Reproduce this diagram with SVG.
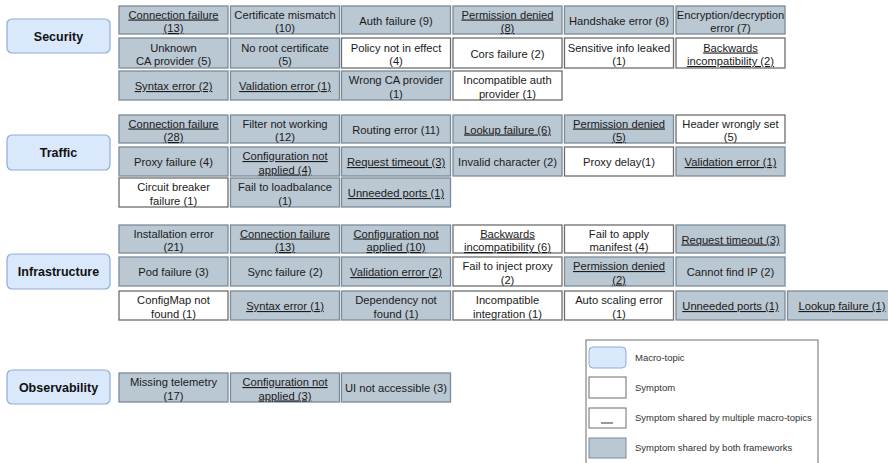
<svg xmlns="http://www.w3.org/2000/svg" width="888" height="463" viewBox="0 0 888 463">
  <style>
    .topic rect { fill: #dae8fc; stroke: #8fabd6; stroke-width: 1.2; }
    .topic text { font-family: "Liberation Sans", Arial, sans-serif; font-size: 12.5px; font-weight: bold; fill: #111; text-anchor: middle; }
    .g rect { fill: #bac8d3; stroke: #7b8a97; stroke-width: 1.3; }
    .w rect { fill: #ffffff; stroke: #6d6d6d; stroke-width: 1.3; }
    .g text, .w text { font-family: "Liberation Sans", Arial, sans-serif; font-size: 11.2px; fill: #1a1a1a; text-anchor: middle; }
    .u text { text-decoration: underline; }
    .legend text { font-family: "Liberation Sans", Arial, sans-serif; font-size: 9.5px; fill: #333; }
  </style>
  <rect width="888" height="463" fill="#ffffff"/>

  <!-- macro-topics -->
  <g id="topic-security" class="topic"><rect x="7" y="19" width="103" height="34" rx="5"/><text x="58.5" y="40.5">Security</text></g>
  <g id="topic-traffic" class="topic"><rect x="7" y="135" width="103" height="35" rx="5"/><text x="58.5" y="157">Traffic</text></g>
  <g id="topic-infrastructure" class="topic"><rect x="7" y="254" width="103" height="35" rx="5"/><text x="58.5" y="276">Infrastructure</text></g>
  <g id="topic-observability" class="topic"><rect x="7" y="370" width="103" height="34" rx="5"/><text x="58.5" y="391.5">Observability</text></g>

  <!-- Security symptoms -->
  <g id="sec-connection-failure" class="g u"><rect x="119" y="6" width="109" height="28"/><text x="173.5" y="18.5">Connection failure</text><text x="173.5" y="32">(13)</text></g>
  <g id="sec-certificate-mismatch" class="g"><rect x="230.5" y="6" width="109" height="28"/><text x="285" y="18.5">Certificate mismatch</text><text x="285" y="32">(10)</text></g>
  <g id="sec-auth-failure" class="g"><rect x="341.5" y="6" width="109" height="28"/><text x="396" y="24.5">Auth failure (9)</text></g>
  <g id="sec-permission-denied" class="g u"><rect x="453" y="6" width="109" height="28"/><text x="507.5" y="18.5">Permission denied</text><text x="507.5" y="32">(8)</text></g>
  <g id="sec-handshake-error" class="g"><rect x="564.5" y="6" width="109" height="28"/><text x="619" y="24.5">Handshake error (8)</text></g>
  <g id="sec-encryption-error" class="g"><rect x="676" y="6" width="109" height="28"/><text x="730.5" y="18.5">Encryption/decryption</text><text x="730.5" y="32">error (7)</text></g>

  <g id="sec-unknown-ca" class="g"><rect x="119" y="38" width="109" height="30"/><text x="173.5" y="51.5">Unknown</text><text x="173.5" y="65">CA provider (5)</text></g>
  <g id="sec-no-root-cert" class="g"><rect x="230.5" y="38" width="109" height="30"/><text x="285" y="51.5">No root certificate</text><text x="285" y="65">(5)</text></g>
  <g id="sec-policy-not-in-effect" class="w"><rect x="341.5" y="38" width="109" height="30"/><text x="396" y="51.5">Policy not in effect</text><text x="396" y="65">(4)</text></g>
  <g id="sec-cors-failure" class="w"><rect x="453" y="38" width="109" height="30"/><text x="507.5" y="57.5">Cors failure (2)</text></g>
  <g id="sec-sensitive-info" class="w"><rect x="564.5" y="38" width="109" height="30"/><text x="619" y="51.5">Sensitive info leaked</text><text x="619" y="65">(1)</text></g>
  <g id="sec-backwards-incompat" class="w u"><rect x="676" y="38" width="109" height="30"/><text x="730.5" y="51.5">Backwards</text><text x="730.5" y="65">incompatibility (2)</text></g>

  <g id="sec-syntax-error" class="g u"><rect x="119" y="71" width="109" height="29"/><text x="173.5" y="90">Syntax error (2)</text></g>
  <g id="sec-validation-error" class="g u"><rect x="230.5" y="71" width="109" height="29"/><text x="285" y="90">Validation error (1)</text></g>
  <g id="sec-wrong-ca" class="g"><rect x="341.5" y="71" width="109" height="29"/><text x="396" y="84">Wrong CA provider</text><text x="396" y="97.5">(1)</text></g>
  <g id="sec-incompat-auth" class="w"><rect x="453" y="71" width="109" height="29"/><text x="507.5" y="84">Incompatible auth</text><text x="507.5" y="97.5">provider (1)</text></g>

  <!-- Traffic symptoms -->
  <g id="tr-connection-failure" class="g u"><rect x="119" y="115" width="109" height="28"/><text x="173.5" y="127.5">Connection failure</text><text x="173.5" y="141">(28)</text></g>
  <g id="tr-filter-not-working" class="g"><rect x="230.5" y="115" width="109" height="28"/><text x="285" y="127.5">Filter not working</text><text x="285" y="141">(12)</text></g>
  <g id="tr-routing-error" class="g"><rect x="341.5" y="115" width="109" height="28"/><text x="396" y="133.5">Routing error (11)</text></g>
  <g id="tr-lookup-failure" class="g u"><rect x="453" y="115" width="109" height="28"/><text x="507.5" y="133.5">Lookup failure (6)</text></g>
  <g id="tr-permission-denied" class="g u"><rect x="564.5" y="115" width="109" height="28"/><text x="619" y="127.5">Permission denied</text><text x="619" y="141">(5)</text></g>
  <g id="tr-header-wrong" class="w"><rect x="676" y="115" width="109" height="28"/><text x="730.5" y="127.5">Header wrongly set</text><text x="730.5" y="141">(5)</text></g>

  <g id="tr-proxy-failure" class="g"><rect x="119" y="147" width="109" height="29"/><text x="173.5" y="166">Proxy failure (4)</text></g>
  <g id="tr-config-not-applied" class="g u"><rect x="230.5" y="147" width="109" height="29"/><text x="285" y="160">Configuration not</text><text x="285" y="173.5">applied (4)</text></g>
  <g id="tr-request-timeout" class="g u"><rect x="341.5" y="147" width="109" height="29"/><text x="396" y="166">Request timeout (3)</text></g>
  <g id="tr-invalid-char" class="g"><rect x="453" y="147" width="109" height="29"/><text x="507.5" y="166">Invalid character (2)</text></g>
  <g id="tr-proxy-delay" class="w"><rect x="564.5" y="147" width="109" height="29"/><text x="619" y="166">Proxy delay(1)</text></g>
  <g id="tr-validation-error" class="g u"><rect x="676" y="147" width="109" height="29"/><text x="730.5" y="166">Validation error (1)</text></g>

  <g id="tr-circuit-breaker" class="w"><rect x="119" y="178" width="109" height="29"/><text x="173.5" y="191">Circuit breaker</text><text x="173.5" y="204.5">failure (1)</text></g>
  <g id="tr-loadbalance" class="g"><rect x="230.5" y="178" width="109" height="29"/><text x="285" y="191">Fail to loadbalance</text><text x="285" y="204.5">(1)</text></g>
  <g id="tr-unneeded-ports" class="g u"><rect x="341.5" y="178" width="109" height="29"/><text x="396" y="197">Unneeded ports (1)</text></g>

  <!-- Infrastructure symptoms -->
  <g id="in-installation-error" class="g"><rect x="119" y="225" width="109" height="28"/><text x="173.5" y="237.5">Installation error</text><text x="173.5" y="251">(21)</text></g>
  <g id="in-connection-failure" class="g u"><rect x="230.5" y="225" width="109" height="28"/><text x="285" y="237.5">Connection failure</text><text x="285" y="251">(13)</text></g>
  <g id="in-config-not-applied" class="g u"><rect x="341.5" y="225" width="109" height="28"/><text x="396" y="237.5">Configuration not</text><text x="396" y="251">applied (10)</text></g>
  <g id="in-backwards-incompat" class="w u"><rect x="453" y="225" width="109" height="28"/><text x="507.5" y="237.5">Backwards</text><text x="507.5" y="251">incompatibility (6)</text></g>
  <g id="in-apply-manifest" class="w"><rect x="564.5" y="225" width="109" height="28"/><text x="619" y="237.5">Fail to apply</text><text x="619" y="251">manifest (4)</text></g>
  <g id="in-request-timeout" class="g u"><rect x="676" y="225" width="109" height="28"/><text x="730.5" y="243.5">Request timeout (3)</text></g>

  <g id="in-pod-failure" class="g"><rect x="119" y="257" width="109" height="29"/><text x="173.5" y="276">Pod failure (3)</text></g>
  <g id="in-sync-failure" class="g"><rect x="230.5" y="257" width="109" height="29"/><text x="285" y="276">Sync failure (2)</text></g>
  <g id="in-validation-error" class="g u"><rect x="341.5" y="257" width="109" height="29"/><text x="396" y="276">Validation error (2)</text></g>
  <g id="in-inject-proxy" class="w"><rect x="453" y="257" width="109" height="29"/><text x="507.5" y="270">Fail to inject proxy</text><text x="507.5" y="283.5">(2)</text></g>
  <g id="in-permission-denied" class="g u"><rect x="564.5" y="257" width="109" height="29"/><text x="619" y="270">Permission denied</text><text x="619" y="283.5">(2)</text></g>
  <g id="in-cannot-find-ip" class="g"><rect x="676" y="257" width="109" height="29"/><text x="730.5" y="276">Cannot find IP (2)</text></g>

  <g id="in-configmap" class="w"><rect x="119" y="291" width="109" height="29"/><text x="173.5" y="304">ConfigMap not</text><text x="173.5" y="317.5">found (1)</text></g>
  <g id="in-syntax-error" class="g u"><rect x="230.5" y="291" width="109" height="29"/><text x="285" y="310">Syntax error (1)</text></g>
  <g id="in-dependency" class="g"><rect x="341.5" y="291" width="109" height="29"/><text x="396" y="304">Dependency not</text><text x="396" y="317.5">found (1)</text></g>
  <g id="in-incompat-integration" class="w"><rect x="453" y="291" width="109" height="29"/><text x="507.5" y="304">Incompatible</text><text x="507.5" y="317.5">integration (1)</text></g>
  <g id="in-auto-scaling" class="w"><rect x="564.5" y="291" width="109" height="29"/><text x="619" y="304">Auto scaling error</text><text x="619" y="317.5">(1)</text></g>
  <g id="in-unneeded-ports" class="g u"><rect x="676" y="291" width="109" height="29"/><text x="730.5" y="310">Unneeded ports (1)</text></g>
  <g id="in-lookup-failure" class="g u"><rect x="787.5" y="291" width="109" height="29"/><text x="842" y="310">Lookup failure (1)</text></g>

  <!-- Observability symptoms -->
  <g id="ob-missing-telemetry" class="g"><rect x="119" y="373" width="109" height="29"/><text x="173.5" y="386">Missing telemetry</text><text x="173.5" y="399.5">(17)</text></g>
  <g id="ob-config-not-applied" class="g u"><rect x="230.5" y="373" width="109" height="29"/><text x="285" y="386">Configuration not</text><text x="285" y="399.5">applied (3)</text></g>
  <g id="ob-ui-not-accessible" class="g"><rect x="341.5" y="373" width="109" height="29"/><text x="396" y="392">UI not accessible (3)</text></g>

  <!-- connectors: none in this figure -->
  <g id="connectors"/>

  <!-- legend -->
  <g id="legend" class="legend">
    <rect x="586" y="340" width="232" height="130" fill="#ffffff" stroke="#6d6d6d" stroke-width="1"/>
    <rect x="589" y="347" width="37" height="21" rx="4" fill="#dae8fc" stroke="#8fabd6" stroke-width="1"/>
    <text x="635" y="361">Macro-topic</text>
    <rect x="589" y="377" width="37" height="21" fill="#ffffff" stroke="#6d6d6d" stroke-width="1"/>
    <text x="635" y="391">Symptom</text>
    <rect x="589" y="408" width="37" height="20" fill="#ffffff" stroke="#6d6d6d" stroke-width="1"/>
    <line x1="601" y1="423" x2="613" y2="423" stroke="#333" stroke-width="1"/>
    <text x="635" y="421">Symptom shared by multiple macro-topics</text>
    <rect x="589" y="438" width="37" height="20" fill="#bac8d3" stroke="#7b8a97" stroke-width="1"/>
    <text x="635" y="451">Symptom shared by both frameworks</text>
  </g>
</svg>
